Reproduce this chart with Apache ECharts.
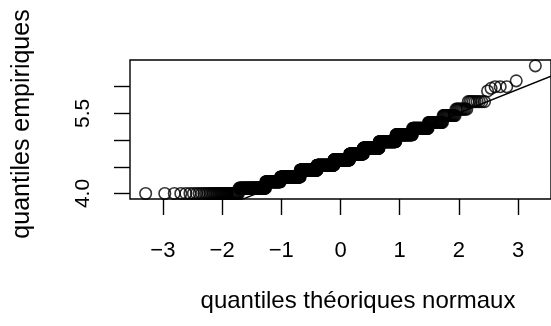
<!DOCTYPE html>
<html lang="fr">
<head>
<meta charset="UTF-8">
<title>QQ-plot normal</title>
<script src="https://cdn.jsdelivr.net/npm/echarts@6/dist/echarts.min.js"></script>
<style>
  html, body { margin: 0; padding: 0; background: #fff; }
  #chart { width: 551px; height: 326px; }
</style>
</head>
<body>
<div id="chart"></div>
<script>
// valeurs : niveaux (données arrondies) et effectifs
var levelValues = [4.00, 4.10, 4.22, 4.31, 4.44, 4.53, 4.63, 4.74, 4.85, 4.97, 5.10, 5.22, 5.33, 5.46, 5.58, 5.72];
var levelCounts = [43, 60, 52, 93, 98, 109, 106, 89, 93, 82, 63, 43, 27, 16, 10, 9];
var upperTail = [5.92, 5.97, 6.00, 6.00, 6.00, 6.11, 6.39];

// droite de Henry (qqline)
var lineIntercept = 4.624;
var lineSlope = 0.442;

var xTicks = [-3, -2, -1, 0, 1, 2, 3];
var yTicks = [4.0, 4.5, 5.0, 5.5, 6.0];
var yLabels = [4.0, 5.5];

var xMin = -3.555, xMax = 3.555;
var yMin = 3.897, yMax = 6.5;

// quantile de la loi normale (Acklam)
function qnorm(p) {
    var a = [-3.969683028665376e+01, 2.209460984245205e+02, -2.759285104469687e+02, 1.383577518672690e+02, -3.066479806614716e+01, 2.506628277459239e+00];
    var b = [-5.447609879822406e+01, 1.615858368580409e+02, -1.556989798598866e+02, 6.680131188771972e+01, -1.328068155288572e+01];
    var c = [-7.784894002430293e-03, -3.223964580411365e-01, -2.400758277161838e+00, -2.549732539343734e+00, 4.374664141464968e+00, 2.938163982698783e+00];
    var d = [7.784695709041462e-03, 3.224671290700398e-01, 2.445134137142996e+00, 3.754408661907416e+00];
    var plow = 0.02425, q, r;
    if (p < plow) {
        q = Math.sqrt(-2 * Math.log(p));
        return (((((c[0]*q+c[1])*q+c[2])*q+c[3])*q+c[4])*q+c[5]) / ((((d[0]*q+d[1])*q+d[2])*q+d[3])*q+1);
    }
    if (p > 1 - plow) {
        q = Math.sqrt(-2 * Math.log(1 - p));
        return -(((((c[0]*q+c[1])*q+c[2])*q+c[3])*q+c[4])*q+c[5]) / ((((d[0]*q+d[1])*q+d[2])*q+d[3])*q+1);
    }
    q = p - 0.5; r = q * q;
    return (((((a[0]*r+a[1])*r+a[2])*r+a[3])*r+a[4])*r+a[5])*q / (((((b[0]*r+b[1])*r+b[2])*r+b[3])*r+b[4])*r+1);
}

// échantillon trié
var sample = [];
for (var i = 0; i < levelValues.length; i++) {
    for (var k = 0; k < levelCounts[i]; k++) sample.push(levelValues[i]);
}
sample = sample.concat(upperTail);

var n = sample.length;
var points = sample.map(function (v, idx) {
    return [qnorm((idx + 0.5) / n), v];
});

var fontFamily = "'Liberation Sans', Arial, sans-serif";

var myChart = echarts.init(document.getElementById('chart'));
myChart.setOption({
    animation: false,
    backgroundColor: '#fff',
    grid: {
        left: 130, top: 60, right: -6, bottom: 127,
        show: true, borderColor: '#000', borderWidth: 1.4, backgroundColor: 'transparent'
    },
    graphic: [
        {
            type: 'text', x: 358, y: 301,
            style: { text: 'quantiles théoriques normaux', fill: '#000', fontSize: 24, fontFamily: fontFamily, align: 'center', verticalAlign: 'middle' }
        },
        {
            type: 'text', x: 22, y: 124, rotation: Math.PI / 2,
            style: { text: 'quantiles empiriques', fill: '#000', fontSize: 25, fontFamily: fontFamily, align: 'center', verticalAlign: 'middle' }
        }
    ],
    xAxis: {
        type: 'value', min: xMin, max: xMax,
        axisLine: { show: false, onZero: false },
        splitLine: { show: false },
        axisTick: { show: true, length: 16, inside: false, customValues: xTicks, lineStyle: { color: '#000', width: 1.4 } },
        axisLabel: {
            customValues: xTicks, margin: 52, verticalAlign: 'middle',
            color: '#000', fontSize: 22, fontFamily: fontFamily,
            formatter: function (v) { return v < 0 ? '\u2212' + Math.abs(v) : String(v); }
        }
    },
    yAxis: {
        type: 'value', min: yMin, max: yMax,
        axisLine: { show: false, onZero: false },
        splitLine: { show: false },
        axisTick: { show: true, length: 16, inside: false, customValues: yTicks, lineStyle: { color: '#000', width: 1.4 } },
        axisLabel: {
            customValues: yLabels, margin: 47, rotate: 90,
            align: 'center', verticalAlign: 'middle',
            color: '#000', fontSize: 21, fontFamily: fontFamily,
            formatter: function (v) { return Number(v).toFixed(1); }
        }
    },
    series: [
        {
            type: 'scatter',
            data: points,
            symbol: 'circle',
            symbolSize: 11.5,
            itemStyle: { color: 'transparent', borderColor: '#000', borderWidth: 1.6 },
            large: false,
            clip: true
        },
        {
            type: 'line',
            data: [[xMin, lineIntercept + lineSlope * xMin], [xMax, lineIntercept + lineSlope * xMax]],
            symbol: 'none',
            lineStyle: { color: '#000', width: 1.4 },
            clip: true
        }
    ]
});
</script>
</body>
</html>
